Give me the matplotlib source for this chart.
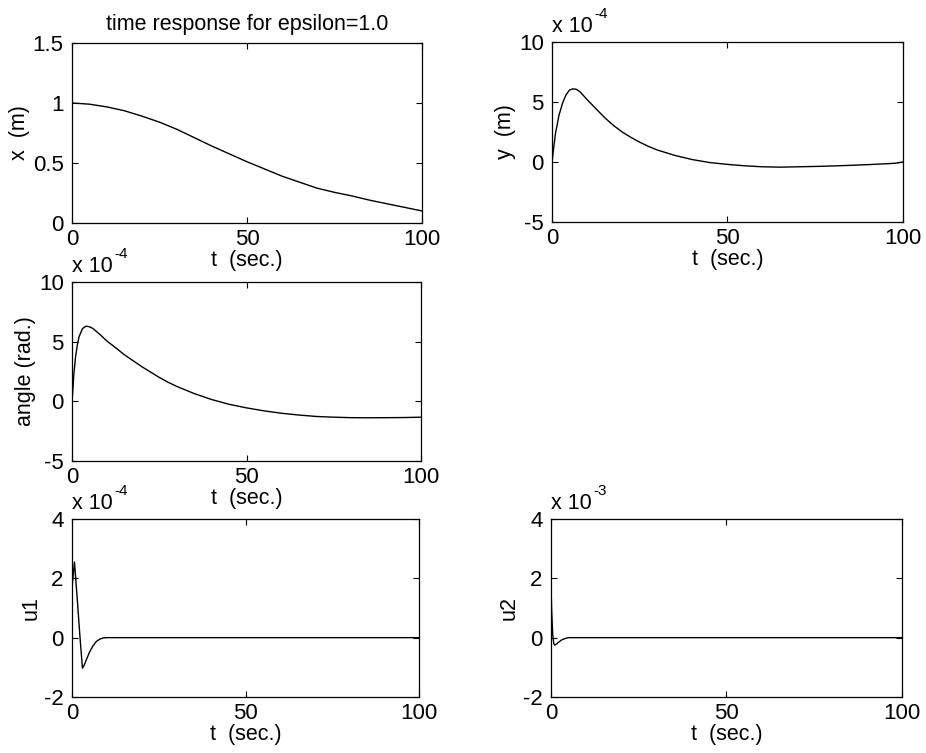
import matplotlib
matplotlib.use("Agg")
import matplotlib.pyplot as plt

plt.rcParams["font.family"] = ["Liberation Sans", "DejaVu Sans"]
plt.rcParams["font.size"] = 16

# x position (m)
t_x = [0, 5, 10, 15, 20, 25, 30, 35, 40, 45, 50, 55, 60, 65, 70, 75, 80, 85, 90, 95, 100]
x_m = [1.0, 0.99, 0.967, 0.935, 0.89, 0.84, 0.78, 0.71, 0.64, 0.575, 0.51,
       0.45, 0.39, 0.34, 0.29, 0.255, 0.225, 0.19, 0.16, 0.13, 0.10]

# y position, units of 1e-4 m
t_y = [0, 0.5, 1, 2, 3, 4, 5, 6, 7, 8, 10, 12, 15, 17.5, 20, 22.5, 25, 27.5, 30,
       35, 40, 45, 50, 55, 60, 65, 70, 75, 80, 85, 90, 95, 98, 100]
y_m = [0, 1.2, 2.4, 3.9, 4.9, 5.6, 6.0, 6.1, 6.05, 5.85, 5.2, 4.6, 3.7, 3.05,
       2.5, 2.05, 1.65, 1.3, 1.0, 0.55, 0.2, -0.05, -0.2, -0.32, -0.4, -0.43,
       -0.4, -0.37, -0.33, -0.28, -0.22, -0.15, -0.1, 0.0]

# angle, units of 1e-4 rad
t_a = [0, 0.5, 1, 1.5, 2, 3, 4, 5, 6, 8, 10, 12, 15, 17.5, 20, 22.5, 25, 27.5,
       30, 35, 40, 45, 50, 55, 60, 65, 70, 75, 80, 85, 90, 95, 100]
ang = [0, 2.2, 3.7, 4.7, 5.4, 6.1, 6.3, 6.25, 6.1, 5.6, 5.05, 4.6, 3.9, 3.4,
       2.9, 2.45, 2.0, 1.6, 1.25, 0.65, 0.15, -0.25, -0.55, -0.8, -1.0, -1.15,
       -1.27, -1.33, -1.37, -1.38, -1.37, -1.36, -1.33]

# u1, units of 1e-4
t_u1 = [0, 0.7, 1.5, 2.3, 3, 3.5, 4, 5, 6, 7, 8, 9, 10, 100]
u1 = [1.7, 2.55, 1.3, 0.0, -1.03, -0.93, -0.78, -0.5, -0.28, -0.13, -0.05,
      -0.01, 0.0, 0.0]

# u2, units of 1e-3
t_u2 = [0, 0.2, 0.5, 0.8, 1, 1.5, 2, 3, 4, 5, 100]
u2 = [1.8, 0.9, 0.1, -0.2, -0.25, -0.22, -0.17, -0.08, -0.03, 0.0, 0.0]

fig = plt.figure(figsize=(9.26, 7.53), dpi=100)

panels = [
    # rect, t, values, ylim, yticks, ylabel, exponent
    ([0.0778, 0.7039, 0.378, 0.239], t_x, x_m, (0, 1.5), [0, 0.5, 1, 1.5], "x  (m)", None),
    ([0.5961, 0.7052, 0.379, 0.239], t_y, y_m, (-5, 10), [-5, 0, 5, 10], "y  (m)", "-4"),
    ([0.0778, 0.3878, 0.377, 0.2377], t_a, ang, (-5, 10), [-5, 0, 5, 10], "angle (rad.)", "-4"),
    ([0.0778, 0.0744, 0.3747, 0.2364], t_u1, u1, (-2, 4), [-2, 0, 2, 4], "u1", "-4"),
    ([0.5950, 0.0744, 0.379, 0.2364], t_u2, u2, (-2, 4), [-2, 0, 2, 4], "u2", "-3"),
]

for rect, t, v, ylim, yt, ylab, expo in panels:
    ax = fig.add_axes(rect)
    ax.plot(t, v, color="black", lw=1.0)
    ax.set_xlim(0, 100)
    ax.set_ylim(*ylim)
    ax.set_xticks([0, 50, 100])
    ax.set_yticks(yt)
    ax.set_yticklabels([f"{y:g}" for y in yt])
    ax.tick_params(direction="in", top=True, right=True, length=4, width=0.8,
                   labelsize=16)
    ax.tick_params(axis="x", pad=4)
    ax.tick_params(axis="y", pad=6)
    ax.set_xlabel("t  (sec.)", fontsize=15.5, labelpad=0)
    ax.set_ylabel(ylab, fontsize=15.5, labelpad=2)
    for s in ax.spines.values():
        s.set_linewidth(0.9)
    if expo is not None:
        base = ax.text(0.0, 1.03, "x 10", transform=ax.transAxes,
                       ha="left", va="bottom", fontsize=15.5)
        ax.annotate(expo, xy=(1.0, 0.75), xycoords=base, xytext=(1, 0),
                    textcoords="offset points", ha="left", va="bottom",
                    fontsize=11)
    if ylab == "x  (m)":
        ax.set_title("time response for epsilon=1.0", fontsize=15.5, pad=9)

fig.savefig("out.png", dpi=100)
